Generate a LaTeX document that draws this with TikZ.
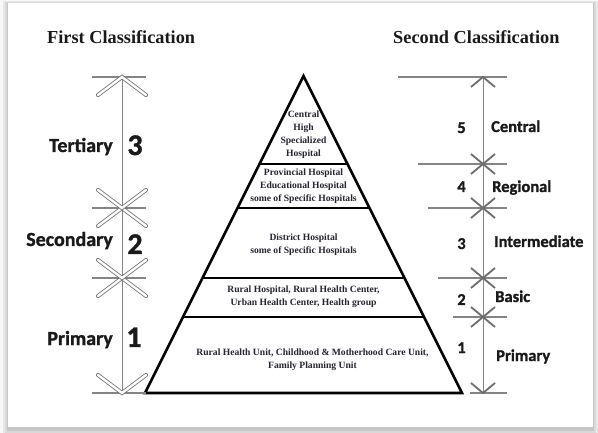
\documentclass[tikz,border=0pt]{standalone}
\usepackage{fontspec}
\setmainfont{Liberation Serif}
\newfontfamily\calib{Carlito}[BoldFont={Carlito Bold}, BoldFeatures={FakeBold=1.2}]
\usetikzlibrary{calc}
\definecolor{txt}{HTML}{1A1A1A}
\definecolor{ptxt}{HTML}{25252F}
\definecolor{scl}{HTML}{858585}
\definecolor{arw}{HTML}{6E6E6E}
\tikzset{
  titletxt/.style={font=\fontsize{18.3}{22}\selectfont\bfseries, text=txt, inner sep=0pt},
  lefttxt/.style={font=\calib\bfseries\fontsize{20}{24}\selectfont, text=txt, inner sep=0pt},
  leftnum/.style={font=\calib\bfseries\fontsize{30}{34}\selectfont, text=txt, inner sep=0pt},
  righttxt/.style={font=\calib\bfseries\fontsize{16.5}{20}\selectfont, text=txt, inner sep=0pt},
  pyrtxt/.style={font=\fontsize{9.6}{13}\selectfont\bfseries, text=ptxt, align=center, inner sep=0pt},
  scaleline/.style={draw=scl, line width=1pt},
  tickline/.style={draw=scl, line width=1.4pt},
  hollow/.style={draw=arw, line width=0.8pt, double=white, double distance=2.4pt, line cap=round},
  solidarw/.style={draw=arw, line width=1.8pt},
  pyr/.style={draw=black, line width=2.6pt},
  pyrdiv/.style={draw=black, line width=2pt},
}
\begin{document}
\begin{tikzpicture}[x=1pt,y=-1pt]
\useasboundingbox (0,0) rectangle (598,433);
% background and frame with shadow
\fill[gray!6] (0,0) rectangle (598,433);
\fill[gray!18] (3,1) rectangle (598,433);
\fill[gray!30] (5,2) rectangle (596,433);
\fill[gray!45] (7,3) rectangle (594,431);
\fill[white] (8,3) rectangle (593,427);

% titles
\node[titletxt, anchor=base west] (t1) at (47,44) {First Classification};
\node[titletxt, anchor=base west] (t2) at (393,44) {Second Classification};

% pyramid
\coordinate (A) at (303.5,76);
\coordinate (BL) at (145,393);
\coordinate (BR) at (462,393);
\foreach \n/\t in {1/0.2776,2/0.4164,3/0.6372,4/0.7603}{
  \coordinate (D\n l) at ($(A)!\t!(BL)$);
  \coordinate (D\n r) at ($(A)!\t!(BR)$);
}
\draw[pyrdiv] (D1l) -- (D1r);
\draw[pyr] (D2l) -- (D2r);
\draw[pyr] (D3l) -- (D3r);
\draw[pyrdiv] (D4l) -- (D4r);
\draw[pyr, line join=miter] (A) -- (BL) -- (BR) -- cycle;

\node[pyrtxt] (p1) at (303.5,135) {Central\\High\\Specialized\\Hospital};
\node[pyrtxt] (p2) at (303.5,186) {Provincial Hospital\\Educational Hospital\\some of Specific Hospitals};
\node[pyrtxt] (p3) at (303.5,245) {District Hospital\\some of Specific Hospitals};
\node[pyrtxt] (p4) at (303.5,296.5) {Rural Hospital, Rural Health Center,\\Urban Health Center, Health group};
\node[pyrtxt] (p5) at (312.5,359.5) {Rural Health Unit, Childhood \& Motherhood Care Unit,\\Family Planning Unit};

% left scale
\foreach \n/\y in {0/77,1/208,2/278,3/393}{
  \coordinate (L\n) at (122,\y);
  \coordinate (La\n) at (92,\y);
  \coordinate (Lb\n) at (146,\y);
}
\foreach \n in {0,...,3} \draw[tickline] (La\n) -- (Lb\n);
\draw[scaleline] (L0) -- (L3);
\foreach \n in {0,1,2} \draw[hollow] ($(L\n)+(-24,18)$) -- (L\n) -- ($(L\n)+(24,18)$);
\foreach \n in {1,2,3} \draw[hollow] ($(L\n)+(-24,-18)$) -- (L\n) -- ($(L\n)+(24,-18)$);

\node[lefttxt, anchor=base east] (l3) at (113,152) {Tertiary};
\node[lefttxt, anchor=base east] (l2) at (113,246) {Secondary};
\node[lefttxt, anchor=base east] (l1) at (113,345) {Primary};
\node[leftnum, anchor=base] (n3) at (135,155) {3};
\node[leftnum, anchor=base] (n2) at (135,254) {2};
\node[leftnum, anchor=base] (n1) at (134,347) {1};

% right scale
\foreach \n/\y/\xs in {0/77/398,1/164/418,2/208/428,3/278/438,4/317/453,5/393/470}{
  \coordinate (R\n) at (483,\y);
  \coordinate (Ra\n) at (\xs,\y);
  \coordinate (Rb\n) at (507,\y);
}
\foreach \n in {0,...,5} \draw[tickline] (Ra\n) -- (Rb\n);
\draw[scaleline] (R0) -- (R5);
\foreach \n in {0,...,4} \draw[solidarw] ($(R\n)+(-12,10)$) -- (R\n) -- ($(R\n)+(12,10)$);
\foreach \n in {1,...,5} \draw[solidarw] ($(R\n)+(-12,-10)$) -- (R\n) -- ($(R\n)+(12,-10)$);

\node[righttxt, anchor=base] (m5) at (461.5,133) {5};
\node[righttxt, anchor=base] (m4) at (461.5,192) {4};
\node[righttxt, anchor=base] (m3) at (461.5,249) {3};
\node[righttxt, anchor=base] (m2) at (461.5,305) {2};
\node[righttxt, anchor=base] (m1) at (461.5,353) {1};
\node[righttxt, anchor=base west] (r5) at (491,132) {Central};
\node[righttxt, anchor=base west] (r4) at (492,192) {Regional};
\node[righttxt, anchor=base west] (r3) at (494,247) {Intermediate};
\node[righttxt, anchor=base west] (r2) at (495,302) {Basic};
\node[righttxt, anchor=base west] (r1) at (496,361) {Primary};
\end{tikzpicture}
\end{document}
